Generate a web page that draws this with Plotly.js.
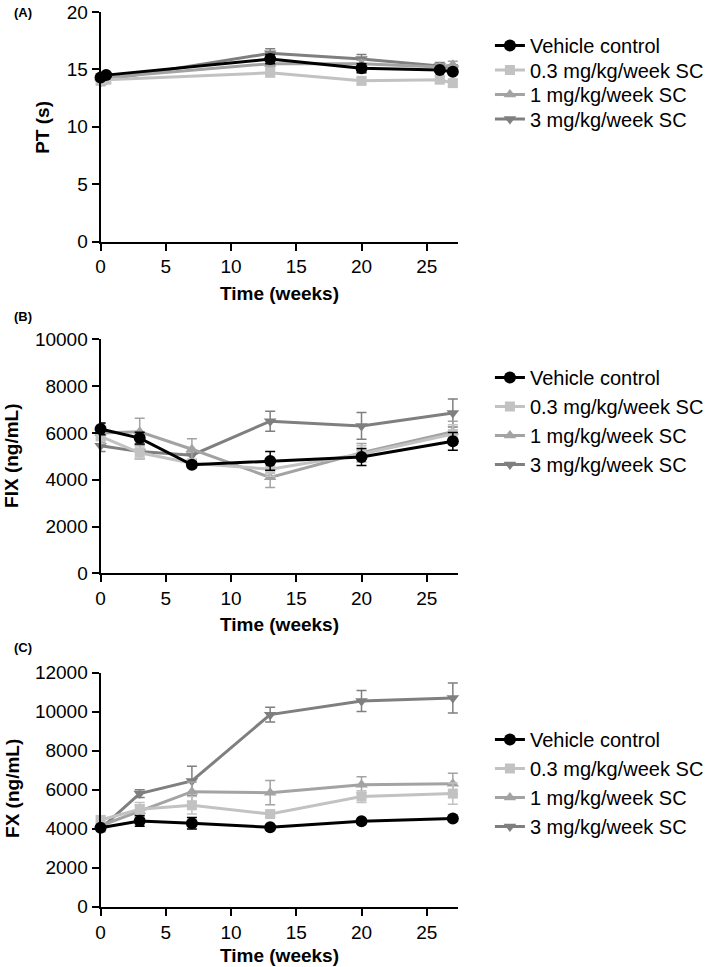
<!DOCTYPE html>
<html>
<head>
<meta charset="utf-8">
<script src="https://cdn.plot.ly/plotly-3.0.1.min.js"></script>
<style>html,body{margin:0;padding:0;background:#fff;}#chart{width:709px;height:967px;}</style>
</head>
<body>
<div id="chart"></div>
<script>
// ---------- data ----------
const seriesNames = ["Vehicle control", "0.3 mg/kg/week SC", "1 mg/kg/week SC", "3 mg/kg/week SC"];

// Panel A: PT (s)
const timeA = [0, 0.43, 13, 20, 26, 27];
const ptVehicle = [14.3, 14.5, 15.9, 15.1, 14.95, 14.8];
const ptVehicleErr = [0.2, 0.2, 0.4, 0.4, 0.2, 0.2];
const pt03 = [14.0, 14.1, 14.7, 14.0, 14.1, 13.8];
const pt03Err = [0.3, 0.3, 0.3, 0.3, 0.3, 0.3];
const pt1 = [14.2, 14.3, 15.5, 15.5, 15.2, 15.4];
const pt1Err = [0.3, 0.3, 0.3, 0.3, 0.3, 0.3];
const pt3 = [13.9, 14.1, 16.4, 15.9, 15.3, 15.1];
const pt3Err = [0.3, 0.3, 0.4, 0.4, 0.3, 0.3];

// Panel B: FIX (ng/mL)
const timeB = [0, 3, 7, 13, 20, 27];
const fixVehicle = [6170, 5780, 4640, 4800, 4970, 5640];
const fixVehicleErr = [250, 250, 120, 400, 360, 380];
const fix03 = [5850, 5150, 4700, 4450, 5100, 5950];
const fix03Err = [300, 250, 150, 300, 350, 400];
const fix1 = [6000, 6050, 5300, 4100, 5150, 6050];
const fix1Err = [400, 580, 450, 430, 400, 450];
const fix3 = [5450, 5200, 5050, 6500, 6300, 6850];
const fix3Err = [250, 300, 200, 430, 570, 600];

// Panel C: FX (ng/mL)
const timeC = [0, 3, 7, 13, 20, 27];
const fxVehicle = [4050, 4400, 4280, 4070, 4380, 4520];
const fxVehicleErr = [100, 280, 300, 80, 80, 80];
const fx03 = [4450, 5000, 5200, 4750, 5650, 5800];
const fx03Err = [200, 350, 450, 150, 300, 550];
const fx1 = [4150, 4900, 5900, 5850, 6250, 6300];
const fx1Err = [200, 300, 500, 620, 420, 550];
const fx3 = [4000, 5800, 6450, 9850, 10550, 10700];
const fx3Err = [150, 200, 750, 380, 540, 770];

const yTicksA = [0, 5, 10, 15, 20];
const yTicksB = [0, 2000, 4000, 6000, 8000, 10000];
const yTicksC = [0, 2000, 4000, 6000, 8000, 10000, 12000];
const xTicks = [0, 5, 10, 15, 20, 25];

// ---------- styles ----------
const W = 709, H = 967;
const FONT = "Liberation Sans, Arial, sans-serif";
const colors = ["#000000", "#c2c2c2", "#a3a3a3", "#7f7f7f"];
const symbols = ["circle", "square", "triangle-up", "triangle-down"];
const msize = [12, 10, 11, 11];

function mk(x, y, err, i, panel) {
  const ax = panel === 1 ? "" : String(panel);
  return {
    x: x, y: y, type: "scatter", mode: "lines+markers",
    name: seriesNames[i],
    xaxis: "x" + ax, yaxis: "y" + ax,
    legend: panel === 1 ? "legend" : "legend" + panel,
    line: {color: colors[i], width: 3},
    marker: {color: colors[i], symbol: symbols[i], size: msize[i]},
    error_y: {type: "data", array: err, visible: true, color: colors[i], thickness: 1.5, width: 5},
    cliponaxis: false
  };
}

const data = [];
const order = [3, 2, 1, 0];
const A = [[ptVehicle, ptVehicleErr], [pt03, pt03Err], [pt1, pt1Err], [pt3, pt3Err]];
const B = [[fixVehicle, fixVehicleErr], [fix03, fix03Err], [fix1, fix1Err], [fix3, fix3Err]];
const C = [[fxVehicle, fxVehicleErr], [fx03, fx03Err], [fx1, fx1Err], [fx3, fx3Err]];
[[A, timeA, 1], [B, timeB, 2], [C, timeC, 3]].forEach(([P, t, p]) => {
  order.forEach(i => data.push(mk(t, P[i][0], P[i][1], i, p)));
});

const px2fx = v => v / W;
const px2fy = v => 1 - v / H;

function xaxisDef(anchor) {
  return {
    domain: [px2fx(101), px2fx(460)], anchor: anchor,
    range: [0, 27.4], tickvals: xTicks, ticktext: xTicks.map(String),
    ticks: "outside", ticklen: 7, tickwidth: 2,
    tickcolor: "#000", showline: true, linecolor: "#000", linewidth: 2, mirror: false,
    showgrid: false, zeroline: false, ticklabeloverflow: "allow",
    tickfont: {family: FONT, size: 19, color: "#000"}
  };
}
function yaxisDef(anchor, top, bot, max, ticks) {
  return {
    domain: [px2fy(bot), px2fy(top)], anchor: anchor,
    range: [0, max], tickvals: ticks, ticktext: ticks.map(String),
    ticks: "outside", ticklen: 7, tickwidth: 2,
    tickcolor: "#000", showline: true, linecolor: "#000", linewidth: 2,
    showgrid: false, zeroline: false, ticklabeloverflow: "allow",
    tickfont: {family: FONT, size: 19, color: "#000"}
  };
}

function legendDef(topPx) {
  return {
    x: px2fx(492), xanchor: "left", y: px2fy(topPx), yanchor: "top",
    font: {family: FONT, size: 20, color: "#000"}, bgcolor: "rgba(0,0,0,0)",
    traceorder: "reversed", itemwidth: 30, tracegroupgap: 0
  };
}

const ann = [];
function txt(text, xpx, ypx, size, bold, angle, xanchor) {
  ann.push({
    text: bold ? "<b>" + text + "</b>" : text, xref: "paper", yref: "paper",
    x: px2fx(xpx), y: px2fy(ypx), xanchor: xanchor || "center", yanchor: "middle",
    showarrow: false, textangle: angle || 0, font: {family: FONT, size: size, color: "#000"}
  });
}
txt("(A)", 12, 12, 13, true, 0, "left");
txt("(B)", 12, 316, 13, true, 0, "left");
txt("(C)", 12, 647, 13, true, 0, "left");
txt("PT (s)", 43, 127, 19, true, -90);
txt("FIX (ng/mL)", 12, 456, 19, true, -90);
txt("FX (ng/mL)", 12, 788, 19, true, -90);
txt("Time (weeks)", 281, 294, 19, true);
txt("Time (weeks)", 281, 624, 19, true);
txt("Time (weeks)", 281, 955, 19, true);

const layout = {
  width: W, height: H,
  margin: {l: 0, r: 0, t: 0, b: 0},
  paper_bgcolor: "#fff", plot_bgcolor: "#fff",
  font: {family: FONT, color: "#000"},
  showlegend: true,
  xaxis: xaxisDef("y"), yaxis: yaxisDef("x", 12, 241.5, 20, yTicksA),
  xaxis2: xaxisDef("y2"), yaxis2: yaxisDef("x2", 339.3, 573.3, 10000, yTicksB),
  xaxis3: xaxisDef("y3"), yaxis3: yaxisDef("x3", 672.7, 906.7, 12000, yTicksC),
  legend: legendDef(26),
  legend2: legendDef(358),
  legend3: legendDef(720),
  annotations: ann
};

Plotly.newPlot("chart", data, layout, {staticPlot: true, displayModeBar: false}).then(() => {
  // tighten legend row spacing to match the reference (~24.5 px per row)
  const ROW = 24.5;
  document.querySelectorAll("g.legend").forEach(lg => {
    const items = Array.from(lg.querySelectorAll("g.traces")).map(t => {
      const m = (t.getAttribute("transform") || "").match(/translate\(\s*([-\d.]+)[ ,]+([-\d.]+)\s*\)/);
      return m ? {el: t, x: parseFloat(m[1]), y: parseFloat(m[2])} : null;
    }).filter(Boolean).sort((a, b) => a.y - b.y);
    if (!items.length) return;
    const y0 = items[0].y;
    items.forEach((it, k) => it.el.setAttribute("transform", "translate(" + it.x + "," + (y0 + k * ROW) + ")"));
  });
});
</script>
</body>
</html>
